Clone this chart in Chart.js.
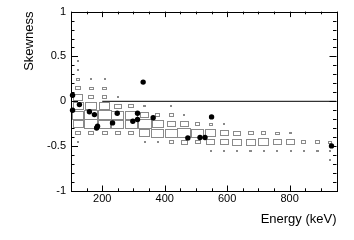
<!DOCTYPE html>
<html>
<head>
<meta charset="utf-8">
<script src="https://cdn.jsdelivr.net/npm/chart.js@4"></script>
<style>
  html, body { margin: 0; padding: 0; background: #fff; }
</style>
</head>
<body>
<canvas id="chart" width="354" height="240"></canvas>
<script>
// 2D histogram bins (energy x skewness), drawn as ROOT-style boxes
const energyCenters = [121.25, 163.75, 206.25, 248.75, 291.25, 333.75, 376.25, 418.75, 461.25, 503.75,
                       546.25, 588.75, 631.25, 673.75, 716.25, 758.75, 801.25, 843.75, 886.25, 928.75];
const energyBinWidth = 42.5;
const skewCenters = [0.45, 0.35, 0.25, 0.15, 0.05, -0.05, -0.15, -0.25, -0.35, -0.45, -0.55, -0.65];
const skewBinHeight = 0.1;

// one row per skewness bin (same order as skewCenters)
const boxCounts = [
    [11, 0, 0, 0, 0, 0, 0, 0, 0, 0, 0, 0, 0, 0, 0, 0, 0, 0, 0, 0],
    [11, 0, 0, 0, 0, 0, 0, 0, 0, 0, 0, 0, 0, 0, 0, 0, 0, 0, 0, 0],
    [25, 11, 11, 0, 0, 0, 0, 0, 0, 0, 0, 0, 0, 0, 0, 0, 0, 0, 0, 0],
    [38, 26, 26, 0, 0, 0, 0, 0, 0, 0, 0, 0, 0, 0, 0, 0, 0, 0, 0, 0],
    [64, 38, 30, 11, 0, 0, 0, 0, 0, 0, 0, 0, 0, 0, 0, 0, 0, 0, 0, 0],
    [72, 79, 75, 49, 35, 15, 0, 11, 0, 0, 0, 0, 0, 0, 0, 0, 0, 0, 0, 0],
    [83, 98, 98, 90, 87, 57, 30, 30, 11, 0, 0, 0, 0, 0, 0, 0, 0, 0, 0, 0],
    [75, 96, 88, 88, 90, 98, 79, 60, 57, 30, 23, 11, 0, 0, 0, 0, 0, 0, 0, 0],
    [34, 34, 34, 34, 34, 75, 90, 90, 93, 90, 75, 60, 49, 34, 30, 26, 15, 0, 0, 0],
    [11, 0, 0, 0, 0, 11, 11, 30, 42, 34, 60, 60, 68, 68, 75, 57, 60, 30, 28, 23],
    [0, 0, 0, 0, 0, 0, 0, 0, 0, 0, 11, 11, 11, 15, 11, 11, 11, 11, 15, 11],
    [0, 0, 0, 0, 0, 0, 0, 0, 0, 0, 0, 0, 0, 0, 0, 0, 0, 0, 0, 11]
];

// measured points
const pointEnergy = [105, 127, 105, 159, 175, 248, 313, 313, 298, 233, 185, 182, 363, 331, 474, 513, 529, 550, 934];
const pointSkew = [0.067, -0.037, -0.10, -0.117, -0.148, -0.133, -0.133, -0.203, -0.222, -0.241,
                   -0.278, -0.297, -0.183, 0.214, -0.408, -0.403, -0.403, -0.174, -0.497];

// reference line at zero
const zeroLineEnergy = [200, 950];
const zeroLineSkew = [0, 0];

// axis ticks
const xTickValues = [100, 150, 200, 250, 300, 350, 400, 450, 500, 550, 600, 650, 700, 750, 800, 850, 900, 950];
const xTickLabels = [200, 400, 600, 800];
const yTickValues = [-1, -0.9, -0.8, -0.7, -0.6, -0.5, -0.4, -0.3, -0.2, -0.1, 0,
                     0.1, 0.2, 0.3, 0.4, 0.5, 0.6, 0.7, 0.8, 0.9, 1];
const yTickLabels = [-1, -0.5, 0, 0.5, 1];

const labelFont = { family: "'Liberation Sans', Arial, sans-serif", size: 11 };
const titleFont = { family: "'Liberation Sans', Arial, sans-serif", size: 13 };

// frame + inward ticks on all four sides, then the boxes
const framePlugin = {
    id: 'frameTicks',
    beforeDatasetsDraw(chart) {
        const { ctx, chartArea: a, scales: { x, y } } = chart;
        ctx.save();
        ctx.strokeStyle = '#000';
        ctx.lineWidth = 1;
        ctx.beginPath();
        x.ticks.forEach(t => {
            const px = Math.round(x.getPixelForValue(t.value)) + 0.5;
            const len = t.value % 200 === 0 ? 5.5 : 2.7;
            ctx.moveTo(px, a.bottom); ctx.lineTo(px, a.bottom - len);
            ctx.moveTo(px, a.top); ctx.lineTo(px, a.top + len);
        });
        y.ticks.forEach(t => {
            const py = Math.round(y.getPixelForValue(t.value)) + 0.5;
            const major = Math.abs(t.value * 2 - Math.round(t.value * 2)) < 1e-6;
            const len = major ? 7 : 3.5;
            ctx.moveTo(a.left, py); ctx.lineTo(a.left + len, py);
            ctx.moveTo(a.right, py); ctx.lineTo(a.right - len, py);
        });
        ctx.stroke();
        ctx.strokeRect(Math.round(a.left) + 0.5, Math.round(a.top) + 0.5,
                       Math.round(a.right - a.left), Math.round(a.bottom - a.top));

        // boxes: size proportional to bin content
        const maxCount = Math.max(...boxCounts.flat());
        ctx.strokeStyle = '#8a8a8a';
        boxCounts.forEach((row, j) => {
            row.forEach((c, i) => {
                if (!c) return;
                const f = c / maxCount;
                const x0 = x.getPixelForValue(energyCenters[i] - f * energyBinWidth / 2);
                const x1 = x.getPixelForValue(energyCenters[i] + f * energyBinWidth / 2);
                const y0 = y.getPixelForValue(skewCenters[j] + f * skewBinHeight / 2);
                const y1 = y.getPixelForValue(skewCenters[j] - f * skewBinHeight / 2);
                const w = Math.max(1, Math.round(x1 - x0));
                const h = Math.max(1, Math.round(y1 - y0));
                const cx = (x0 + x1) / 2, cy = (y0 + y1) / 2;
                ctx.strokeRect(Math.round(cx - w / 2) + 0.5, Math.round(cy - h / 2) + 0.5, w, h);
            });
        });
        ctx.restore();
    }
};

new Chart(document.getElementById('chart'), {
    type: 'scatter',
    data: {
        datasets: [{
            type: 'line',
            data: zeroLineEnergy.map((e, i) => ({ x: e, y: zeroLineSkew[i] })),
            borderColor: '#000',
            borderWidth: 1,
            pointRadius: 0
        }, {
            data: pointEnergy.map((e, i) => ({ x: e, y: pointSkew[i] })),
            backgroundColor: '#000',
            borderWidth: 0,
            pointRadius: 2.7,
            clip: false
        }]
    },
    options: {
        responsive: false,
        animation: false,
        devicePixelRatio: 1,
        layout: { padding: { top: 11.5, right: 17.5, left: 0, bottom: 0 } },
        plugins: {
            legend: { display: false },
            tooltip: { enabled: false }
        },
        scales: {
            x: {
                type: 'linear',
                min: 100,
                max: 950,
                afterBuildTicks: scale => { scale.ticks = xTickValues.map(v => ({ value: v })); },
                afterFit: scale => { scale.height = 49; },
                grid: { display: false, drawTicks: false },
                border: { display: false },
                ticks: {
                    autoSkip: false,
                    maxRotation: 0,
                    padding: 1,
                    color: '#000',
                    font: labelFont,
                    callback: v => xTickLabels.includes(v) ? String(v) : ''
                },
                title: {
                    display: true,
                    text: 'Energy (keV)',
                    align: 'end',
                    color: '#000',
                    font: titleFont,
                    padding: { top: 0, bottom: 13 }
                }
            },
            y: {
                type: 'linear',
                min: -1,
                max: 1,
                afterBuildTicks: scale => { scale.ticks = yTickValues.map(v => ({ value: v })); },
                afterFit: scale => { scale.width = 71; },
                grid: { display: false, drawTicks: false },
                border: { display: false },
                ticks: {
                    autoSkip: false,
                    padding: 5,
                    color: '#000',
                    font: labelFont,
                    callback: v => yTickLabels.includes(v) ? String(v) : ''
                },
                title: {
                    display: true,
                    text: 'Skewness',
                    align: 'end',
                    color: '#000',
                    font: titleFont,
                    padding: { top: 22, bottom: 0 }
                }
            }
        }
    },
    plugins: [framePlugin]
});
</script>
</body>
</html>
